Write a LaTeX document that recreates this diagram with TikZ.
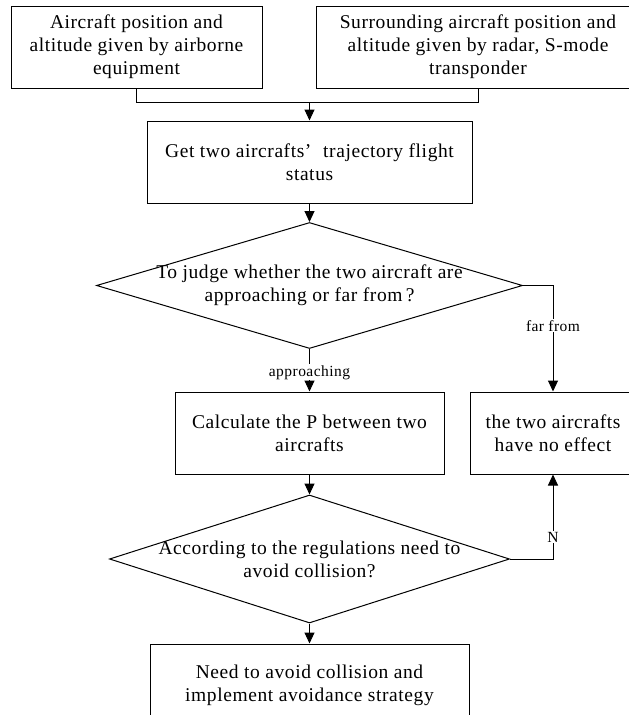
\documentclass[tikz,border=0pt]{standalone}
\usepackage{fontspec}
\setmainfont{Liberation Serif}[LetterSpace=3]
\usetikzlibrary{shapes.geometric, arrows.meta}

\begin{document}
\begin{tikzpicture}[x=1pt, y=-1pt, line width=1pt,
    box/.style={draw, rectangle, minimum height=82pt, align=center, font=\fontsize{19.5}{23}\selectfont},
    decision/.style={draw, diamond, inner sep=0pt},
    dtext/.style={align=center, font=\fontsize{19.5}{23}\selectfont},
    tag/.style={fill=white, inner sep=1pt, font=\fontsize{15.5}{18}\selectfont},
    flow/.style={-{Triangle[length=11pt, width=10pt]}}]
  \path[use as bounding box, clip] (0, 0) rectangle (629, 715);

  % Inputs
  \node[box, minimum width=251pt] (own) at (136.5, 47) {Aircraft position and\\altitude given by airborne\\equipment};
  \node[box, minimum width=324pt] (sur) at (478, 47) {Surrounding aircraft position and\\altitude given by radar, S-mode\\transponder};
  \coordinate (join) at (309.5, 102);

  % Steps
  \node[box, minimum width=325pt] (status) at (309.5, 162) {Get two aircrafts’\hspace{0.6em}trajectory flight\\status};
  \node[decision, minimum width=426pt, minimum height=126pt,
        label={[dtext]center:To judge whether the two aircraft are\\approaching or far from\,?}] (judge) at (309.5, 285.5) {};
  \node[box, minimum width=269pt] (calc) at (309.5, 433) {Calculate the P between two\\aircrafts};
  \node[box, minimum width=166pt] (effect) at (553, 433) {the two aircrafts\\have no effect};
  \node[decision, minimum width=400pt, minimum height=128pt,
        label={[dtext]center:According to the regulations need to\\avoid collision?}] (avoid) at (309.5, 559) {};
  \node[box, minimum width=319pt] (act) at (309.5, 685) {Need to avoid collision and\\implement avoidance strategy};

  % Arrows
  \draw (own.south) |- (join);
  \draw (sur.south) |- (join);
  \draw[flow] (join) -- (status.north);
  \draw[flow] (status.south) -- (judge.north);
  \draw[flow] (judge.south) -- node[tag, pos=0.55] {approaching} (calc.north);
  \draw[flow] (judge.east) -| node[tag, pos=0.69] {far from} (effect.north);
  \draw[flow] (calc.south) -- (avoid.north);
  \draw[flow] (avoid.east) -| node[tag, pos=0.63] {N} (effect.south);
  \draw[flow] (avoid.south) -- (act.north);
\end{tikzpicture}
\end{document}
